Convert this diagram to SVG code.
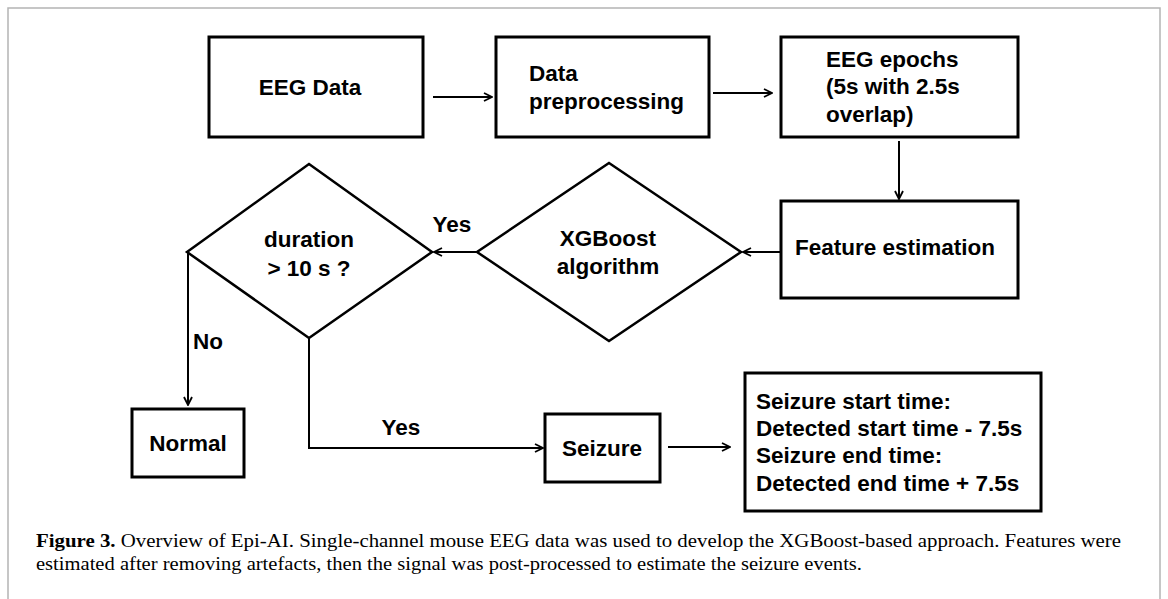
<svg xmlns="http://www.w3.org/2000/svg" width="1168" height="599" viewBox="0 0 1168 599">
  <style>
    .box { fill: #fff; stroke: #000; stroke-width: 3; }
    .dia { fill: #fff; stroke: #000; stroke-width: 2.5; }
    .lbl { font-family: "Liberation Sans", Arial, sans-serif; font-weight: bold; font-size: 22.5px; fill: #000; }
    .mid { text-anchor: middle; }
    .edge { fill: none; stroke: #000; stroke-width: 2; }
    .cap { font-family: "Liberation Serif", "Times New Roman", serif; font-size: 18.5px; fill: #000; }
  </style>
  <defs>
    <marker id="arrow" viewBox="0 0 10 10" refX="9" refY="5" markerWidth="10" markerHeight="10" markerUnits="userSpaceOnUse" orient="auto">
      <path d="M1,1 L9,5 L1,9" fill="none" stroke="#000" stroke-width="1.8"/>
    </marker>
  </defs>

  <rect x="0" y="0" width="1168" height="599" fill="#fff"/>
  <!-- figure frame -->
  <path d="M8,599 V8 H1160 V599" fill="none" stroke="#b4b4b4" stroke-width="1.5"/>

  <g id="eeg-data">
    <rect class="box" x="209" y="37" width="214" height="100"/>
    <text class="lbl mid" x="310" y="95">EEG Data</text>
  </g>
  <g id="preprocessing">
    <rect class="box" x="496" y="37" width="213" height="100"/>
    <text class="lbl" x="529" y="81">Data</text>
    <text class="lbl" x="529" y="109">preprocessing</text>
  </g>
  <g id="epochs">
    <rect class="box" x="781" y="37" width="237" height="100"/>
    <text class="lbl" x="826" y="67">EEG epochs</text>
    <text class="lbl" x="826" y="94">(5s with 2.5s</text>
    <text class="lbl" x="826" y="122">overlap)</text>
  </g>
  <g id="features">
    <rect class="box" x="781" y="201" width="237" height="97"/>
    <text class="lbl" x="795" y="255">Feature estimation</text>
  </g>
  <g id="xgboost">
    <polygon class="dia" points="609,163 741,252 609,341 477,252"/>
    <text class="lbl mid" x="608" y="246">XGBoost</text>
    <text class="lbl mid" x="608" y="274">algorithm</text>
  </g>
  <g id="duration">
    <polygon class="dia" points="309,164 432,252 309,338 187,252"/>
    <text class="lbl mid" x="309" y="247">duration</text>
    <text class="lbl mid" x="309" y="276">&gt; 10 s ?</text>
  </g>
  <g id="normal">
    <rect class="box" x="132" y="409" width="112" height="68"/>
    <text class="lbl mid" x="188" y="451">Normal</text>
  </g>
  <g id="seizure">
    <rect class="box" x="545" y="414" width="115" height="68"/>
    <text class="lbl mid" x="602" y="456">Seizure</text>
  </g>
  <g id="timing">
    <rect class="box" x="745" y="373" width="296" height="138"/>
    <text class="lbl" x="756" y="409">Seizure start time:</text>
    <text class="lbl" x="756" y="436">Detected start time - 7.5s</text>
    <text class="lbl" x="756" y="463">Seizure end time:</text>
    <text class="lbl" x="756" y="491">Detected end time + 7.5s</text>
  </g>

  <g id="connectors">
    <line class="edge" x1="433" y1="97" x2="492" y2="97" marker-end="url(#arrow)"/>
    <line class="edge" x1="713" y1="93" x2="772" y2="93" marker-end="url(#arrow)"/>
    <line class="edge" x1="899" y1="141" x2="899" y2="199" marker-end="url(#arrow)"/>
    <line class="edge" x1="780" y1="252" x2="743" y2="252" marker-end="url(#arrow)"/>
    <line class="edge" x1="476" y1="252" x2="434" y2="252" marker-end="url(#arrow)"/>
    <text class="lbl mid" x="452" y="232">Yes</text>
    <polyline class="edge" points="188,252 188,405" marker-end="url(#arrow)"/>
    <text class="lbl" x="193" y="349">No</text>
    <polyline class="edge" points="309,338 309,448 543,448" marker-end="url(#arrow)"/>
    <text class="lbl mid" x="401" y="435">Yes</text>
    <line class="edge" x1="668" y1="447" x2="730" y2="447" marker-end="url(#arrow)"/>
  </g>

  <g id="caption">
    <text class="cap" x="36" y="547" textLength="1085" lengthAdjust="spacingAndGlyphs"><tspan font-weight="bold">Figure 3.</tspan> Overview of Epi-AI. Single-channel mouse EEG data was used to develop the XGBoost-based approach. Features were</text>
    <text class="cap" x="36" y="570" textLength="826" lengthAdjust="spacingAndGlyphs">estimated after removing artefacts, then the signal was post-processed to estimate the seizure events.</text>
  </g>
</svg>
